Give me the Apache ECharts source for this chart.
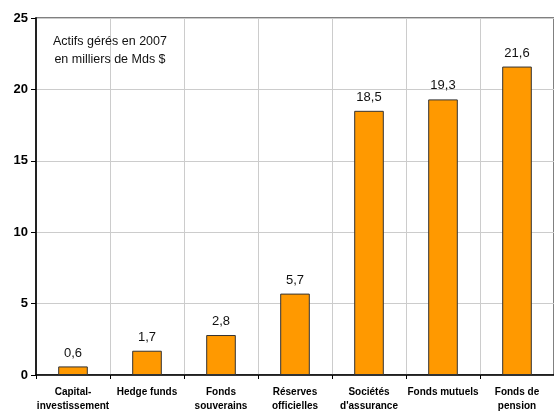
<!DOCTYPE html>
<html><head><meta charset="utf-8">
<script src="https://cdn.jsdelivr.net/npm/echarts@6/dist/echarts.min.js"></script>
<style>html,body{margin:0;padding:0;background:#fff}#c{width:554px;height:413px}</style>
</head><body><div id="c"></div>
<script>
const categories = ["Capital-\ninvestissement","Hedge funds","Fonds\nsouverains","Réserves\nofficielles","Sociétés\nd'assurance","Fonds mutuels","Fonds de\npension"];
const values = [0.6, 1.7, 2.8, 5.7, 18.5, 19.3, 21.6];
const yTicks = [0, 5, 10, 15, 20, 25];
const note = "Actifs gérés en 2007\nen milliers de Mds $";

const chart = echarts.init(document.getElementById('c'), null, {renderer:'canvas'});
chart.setOption({
  animation:false,
  grid:{left:36, top:18, width:521, height:359, show:true, borderColor:'#000', borderWidth:1, backgroundColor:'transparent'},
  xAxis:{type:'category', data:categories,
    axisLine:{lineStyle:{color:'#000', width:1.5}},
    axisTick:{show:true, length:4, lineStyle:{color:'#000'}},
    splitLine:{show:true, lineStyle:{color:'#cccccc', width:1}},
    axisLabel:{interval:0, color:'#000', fontFamily:'Liberation Sans, Arial', fontWeight:'bold', fontSize:10, lineHeight:14, margin:10}
  },
  yAxis:{type:'value', min:yTicks[0], max:yTicks[yTicks.length-1], interval:5,
    axisLine:{show:true, lineStyle:{color:'#222', width:2}},
    axisTick:{show:true, length:5, lineStyle:{color:'#000'}},
    splitLine:{show:true, lineStyle:{color:'#cccccc', width:1}},
    axisLabel:{color:'#000', fontFamily:'Liberation Sans, Arial', fontWeight:'bold', fontSize:13, margin:8}
  },
  series:[{type:'bar', data:values, barWidth:'40%',
    itemStyle:{color:'#FF9900', borderColor:'#333', borderWidth:1},
    label:{show:true, position:'top', distance:7, color:'#111', fontFamily:'Liberation Sans, Arial', fontSize:13,
      formatter:p=>String(p.value).replace('.',',')}
  }],
  graphic:[{type:'text', left:53, top:33, z:10,
    style:{text:note, fill:'#111', font:'12.5px "Liberation Sans", Arial', lineHeight:18, align:'center', textAlign:'center'}}]
});
</script></body></html>
